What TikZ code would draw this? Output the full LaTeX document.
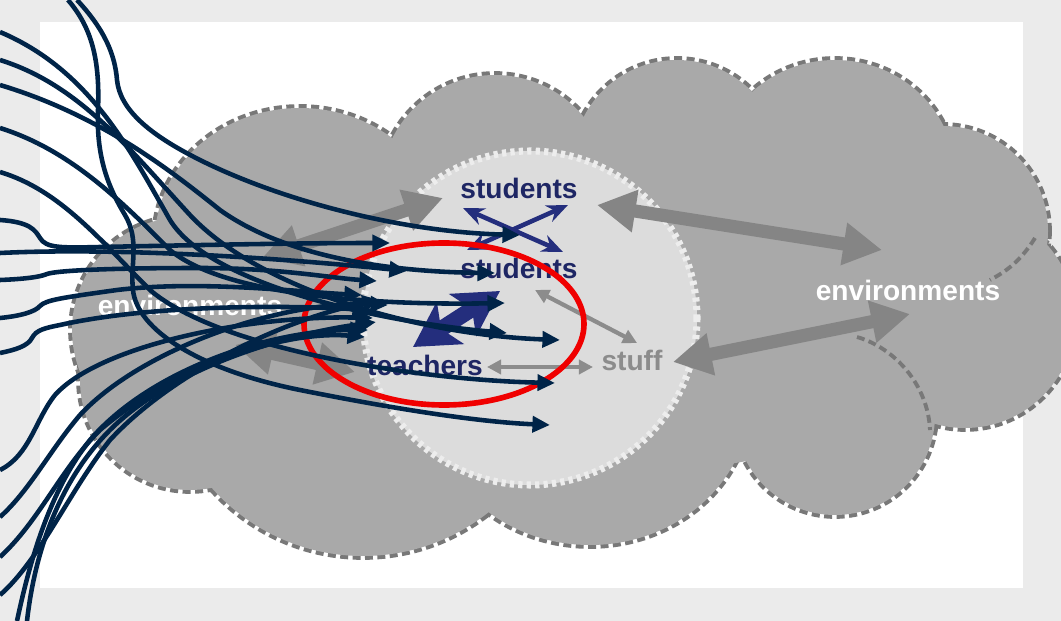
\documentclass[tikz,border=0pt]{standalone}
\usepackage{fontspec}
\setmainfont{Liberation Sans}
\usetikzlibrary{arrows.meta}
\definecolor{bgband}{HTML}{EBEBEB}
\definecolor{cloudfill}{HTML}{A9A9A9}
\definecolor{clouddash}{HTML}{787878}
\definecolor{innerfill}{HTML}{DCDCDC}
\definecolor{innerdash}{HTML}{EDEDED}
\definecolor{grayarrow}{HTML}{858585}
\definecolor{smallgray}{HTML}{8C8C8C}
\definecolor{navytext}{RGB}{30,38,100}
\definecolor{navyarrow}{RGB}{36,46,125}
\definecolor{curvenavy}{RGB}{0,36,72}
\definecolor{redring}{HTML}{F00000}
\begin{document}
\begin{tikzpicture}[x=0.02cm,y=-0.02cm,
  lbl/.style={font=\fontsize{16pt}{18pt}\selectfont\bfseries, inner sep=0pt},
  bigarrow/.style={draw=grayarrow, line width=7.5pt, {Triangle[length=22pt,width=23pt]}-{Triangle[length=22pt,width=23pt]}},
  smallarrow/.style={draw=smallgray, line width=2.4pt, {Triangle[length=8pt,width=8pt]}-{Triangle[length=8pt,width=8pt]}},
  crossarrow/.style={draw=navyarrow, line width=2.6pt, {Stealth[length=12pt,width=10pt]}-{Stealth[length=12pt,width=10pt]}},
  fatarrow/.style={draw=navyarrow, line width=9pt, {Stealth[length=25pt,width=28pt,inset=6pt]}-{Stealth[length=25pt,width=28pt,inset=6pt]}},
  flow/.style={draw=curvenavy, line width=2.6pt, -{Triangle[length=10pt,width=9pt]}},
  lobedash/.style={draw=clouddash, line width=4.4pt, dash pattern=on 4.5pt off 2.5pt}
]
\useasboundingbox (0,0) rectangle (1061,621);
% frame
\fill[bgband] (0,0) rectangle (1061,621);
\fill[white] (40,22) rectangle (1023,588);
% cloud outline
\foreach \cx/\cy/\rx/\ry in {300/240/145/132, 495/190/115/115, 677/165/105/105, 835/175/120/115,
  943/231/105/105, 965/318/110/110, 835/415/100/100, 590/400/160/145, 363/354/202/202,
  190/380/110/110, 185/330/113/113}
  \draw[lobedash] (\cx,\cy) ellipse [x radius=\rx, y radius=\ry];
\foreach \cx/\cy/\rx/\ry in {300/240/145/132, 495/190/115/115, 677/165/105/105, 835/175/120/115,
  943/231/105/105, 965/318/110/110, 835/415/100/100, 590/400/160/145, 363/354/202/202,
  190/380/110/110, 185/330/113/113, 650/300/300/170}
  \fill[cloudfill] (\cx,\cy) ellipse [x radius=\rx, y radius=\ry];
% internal dashed arcs
\draw[draw=clouddash, line width=2.2pt, dash pattern=on 4.5pt off 2.5pt]
  (1035,238) .. controls (1020,262) and (1005,272) .. (990,280);
\draw[draw=clouddash, line width=2.2pt, dash pattern=on 4.5pt off 2.5pt]
  (857,337) .. controls (895,348) and (928,385) .. (930,430);
% inner circle
\fill[innerfill] (530,318) circle [radius=167];
\draw[innerdash, line width=4pt, dash pattern=on 2.4pt off 2.4pt] (530,318) circle [radius=167];
% gray arrows
\coordinate (uEnvL) at (262,258); \coordinate (uStu) at (443,198);
\coordinate (lEnvL) at (235,345); \coordinate (lTea) at (355,372);
\coordinate (rStuA) at (597,205); \coordinate (rEnvA) at (882,250);
\coordinate (rStf) at (673,362); \coordinate (rEnvB) at (910,314);
\draw[bigarrow] (uEnvL) -- (uStu);
\draw[bigarrow] (lEnvL) -- (lTea);
\draw[bigarrow] (rStuA) -- (rEnvA);
\draw[bigarrow] (rStf) -- (rEnvB);
% labels
\node[lbl, text=navytext] (stuA) at (519,188) {students};
\node[lbl, text=navytext] (stuB) at (519,268) {students};
\node[lbl, text=navytext] (tea) at (425,365) {teachers};
\node[lbl, text=smallgray] (stf) at (632,360) {stuff};
\node[lbl, text=white] (envR) at (908,290) {environments};
\node[lbl, text=white] (envL) at (190,305) {environments};
% small gray arrows
\coordinate (sbS) at (535,290); \coordinate (sbF) at (637,343);
\coordinate (tbT) at (487,367); \coordinate (tbF) at (593,367);
\draw[smallarrow] (sbS) -- (sbF);
\draw[smallarrow] (tbT) -- (tbF);
% navy arrows
\coordinate (xa1) at (463,208); \coordinate (xa2) at (563,252);
\coordinate (xb1) at (568,205); \coordinate (xb2) at (467,250);
\draw[crossarrow] (xa1) -- (xa2);
\draw[crossarrow] (xb1) -- (xb2);
\coordinate (fa1) at (413,347); \coordinate (fa2) at (500,291);
\draw[fatarrow] (fa1) -- (fa2);
% red ring
\draw[redring, line width=3.2pt] (444,324) ellipse [x radius=140, y radius=81];
% navy curves
\coordinate (s1) at (68,0);   \coordinate (t1) at (550,425);
\coordinate (s2) at (77,0);   \coordinate (t2) at (520,235);
\coordinate (s3) at (0,32);   \coordinate (t3) at (507,333);
\coordinate (s4) at (0,60);   \coordinate (t4) at (560,340);
\coordinate (s5) at (0,85);   \coordinate (t5) at (495,273);
\coordinate (s6) at (0,128);  \coordinate (t6) at (505,303);
\coordinate (s7) at (0,172);  \coordinate (t7) at (555,383);
\coordinate (s8) at (0,220);  \coordinate (t8) at (390,243);
\coordinate (s9) at (0,253);  \coordinate (t9) at (407,271);
\coordinate (s10) at (0,280); \coordinate (t10) at (377,281);
\coordinate (s11) at (0,318); \coordinate (t11) at (362,295);
\coordinate (s12) at (0,353); \coordinate (t12) at (370,310);
\coordinate (s13) at (0,470); \coordinate (t13) at (373,318);
\coordinate (s14) at (0,517); \coordinate (t14) at (388,305);
\coordinate (s15) at (0,557); \coordinate (t15) at (365,337);
\coordinate (s16) at (0,595); \coordinate (t16) at (380,300);
\coordinate (s17) at (17,621);\coordinate (t17) at (368,330);
\coordinate (s18) at (27,621);\coordinate (t18) at (376,322);
\draw[flow] (s1) .. controls (92,28) and (100,60) .. (98,110) .. controls (96,160) and (110,190) .. (125,215)
  .. controls (140,240) and (130,265) .. (133,290) .. controls (137,330) and (200,370) .. (300,390)
  .. controls (400,410) and (480,422) .. (t1);
\draw[flow] (s2) .. controls (105,30) and (115,55) .. (117,80) .. controls (120,110) and (150,135) .. (200,160)
  .. controls (280,200) and (400,232) .. (t2);
\draw[flow] (s3) .. controls (90,70) and (130,150) .. (170,220) .. controls (210,285) and (380,322) .. (t3);
\draw[flow] (s4) .. controls (80,85) and (130,150) .. (190,215) .. controls (260,290) and (420,335) .. (t4);
\draw[flow] (s5) .. controls (100,115) and (170,170) .. (220,210) .. controls (290,260) and (400,272) .. (t5);
\draw[flow] (s6) .. controls (70,150) and (120,200) .. (170,250) .. controls (230,300) and (400,305) .. (t6);
\draw[flow] (s7) .. controls (60,190) and (100,240) .. (150,290) .. controls (220,350) and (420,380) .. (t7);
\draw[flow] (s8) .. controls (30,222) and (35,230) .. (40,238) .. controls (46,248) and (60,248) .. (100,247)
  .. controls (200,245) and (300,243) .. (t8);
\draw[flow] (s9) .. controls (100,248) and (250,255) .. (t9);
\draw[flow] (s10) .. controls (25,279) and (40,277) .. (47,274) .. controls (55,271) and (100,268) .. (200,268)
  .. controls (280,268) and (330,278) .. (t10);
\draw[flow] (s11) .. controls (20,316) and (35,312) .. (40,306) .. controls (46,300) and (60,298) .. (117,290)
  .. controls (200,280) and (300,292) .. (t11);
\draw[flow] (s12) .. controls (15,350) and (28,346) .. (32,338) .. controls (36,330) and (45,328) .. (60,325)
  .. controls (150,305) and (280,305) .. (t12);
\draw[flow] (s13) .. controls (30,455) and (35,420) .. (55,395) .. controls (100,345) and (250,315) .. (t13);
\draw[flow] (s14) .. controls (30,490) and (50,450) .. (80,415) .. controls (140,350) and (280,300) .. (t14);
\draw[flow] (s15) .. controls (40,520) and (60,470) .. (100,430) .. controls (170,370) and (280,330) .. (t15);
\draw[flow] (s16) .. controls (40,560) and (70,490) .. (110,440) .. controls (170,375) and (280,320) .. (t16);
\draw[flow] (s17) .. controls (30,560) and (50,490) .. (90,440) .. controls (150,370) and (270,330) .. (t17);
\draw[flow] (s18) .. controls (35,550) and (60,480) .. (110,430) .. controls (170,370) and (280,335) .. (t18);
\end{tikzpicture}
\end{document}
